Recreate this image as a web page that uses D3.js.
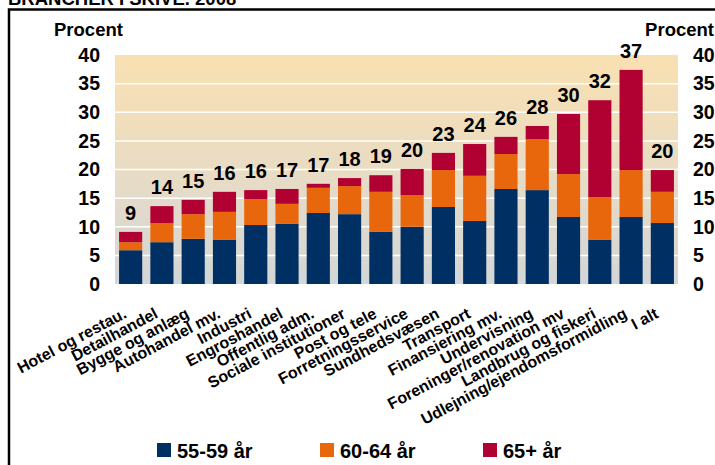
<!DOCTYPE html>
<html>
<head>
<meta charset="utf-8">
<script src="https://cdn.jsdelivr.net/npm/d3@7"></script>
<style>
  body { margin: 0; background: #fff; }
  svg { display: block; font-family: "Liberation Sans", Arial, sans-serif; font-weight: bold; }
</style>
</head>
<body>
<svg id="chart" width="715" height="465"></svg>
<script>
var categories = ["Hotel og restau.", "Detailhandel", "Bygge og anlæg", "Autohandel mv.", "Industri",
  "Engroshandel", "Offentlig adm.", "Sociale institutioner", "Post og tele", "Forretningsservice",
  "Sundhedsvæsen", "Transport", "Finansiering mv.", "Undervisning", "Foreninger/renovation mv",
  "Landbrug og fiskeri", "Udlejning/ejendomsformidling", "I alt"];
var age5559 = [5.9, 7.3, 7.9, 7.7, 10.3, 10.5, 12.4, 12.2, 9.1, 10.0, 13.45, 11.0, 16.6, 16.4, 11.7, 7.7, 11.7, 10.65];
var age6064 = [1.4, 3.35, 4.3, 4.9, 4.55, 3.5, 4.4, 4.9, 7.0, 5.5, 6.45, 7.9, 6.1, 8.9, 7.5, 7.5, 8.2, 5.45];
var age65 = [1.8, 2.95, 2.5, 3.5, 1.55, 2.6, 0.7, 1.4, 2.9, 4.6, 3.0, 5.55, 3.0, 2.3, 10.5, 16.9, 17.5, 3.8];
var totals = [9, 14, 15, 16, 16, 17, 17, 18, 19, 20, 23, 24, 26, 28, 30, 32, 37, 20];
var seriesNames = ["55-59 år", "60-64 år", "65+ år"];
var yTicks = [0, 5, 10, 15, 20, 25, 30, 35, 40];

var colors = ["#003063", "#e8670c", "#b10032"];
var svg = d3.select("#chart");

var plotL = 115, plotR = 678, plotT = 55, plotB = 284;

var x = d3.scaleBand().domain(categories).range([plotL, plotR]).paddingInner(0.26).paddingOuter(0.13);
var y = d3.scaleLinear().domain([0, 40]).range([plotB, plotT]);

// title (cut off at top) and frame
svg.append("text").attr("x", 8).attr("y", 5).attr("font-size", "18.5px").text("BRANCHER I SKIVE. 2008");
svg.append("rect").attr("x", 9).attr("y", 9.5).attr("width", 720).attr("height", 470)
  .attr("fill", "none").attr("stroke", "#000").attr("stroke-width", 2.5);

var defs = svg.append("defs");
var grad = defs.append("linearGradient").attr("id", "bg").attr("x1", 0).attr("y1", 0).attr("x2", 0).attr("y2", 1);
grad.append("stop").attr("offset", "0%").attr("stop-color", "#f9e0b1");
grad.append("stop").attr("offset", "50%").attr("stop-color", "#e9dcc4");
grad.append("stop").attr("offset", "100%").attr("stop-color", "#d3d6d8");

svg.append("rect").attr("x", plotL).attr("y", plotT).attr("width", plotR - plotL).attr("height", plotB - plotT)
  .attr("fill", "url(#bg)");

svg.append("g").selectAll("line").data(yTicks.slice(1, -1)).enter().append("line")
  .attr("x1", plotL).attr("x2", plotR)
  .attr("y1", function(d) { return y(d); }).attr("y2", function(d) { return y(d); })
  .attr("stroke", "#fff").attr("stroke-width", 1.5);

// stacked bars
var rows = categories.map(function(c, i) {
  return { cat: c, a: age5559[i], b: age6064[i], c: age65[i] };
});
var stack = d3.stack().keys(["a", "b", "c"]);
var layers = stack(rows);

svg.append("g").selectAll("g").data(layers).enter().append("g")
  .attr("fill", function(d, i) { return colors[i]; })
  .selectAll("rect").data(function(d) { return d; }).enter().append("rect")
  .attr("x", function(d) { return x(d.data.cat); })
  .attr("width", x.bandwidth())
  .attr("y", function(d) { return y(d[1]); })
  .attr("height", function(d) { return y(d[0]) - y(d[1]); });

// total labels
svg.append("g").selectAll("text").data(categories).enter().append("text")
  .attr("x", function(d) { return x(d) + x.bandwidth() / 2; })
  .attr("y", function(d, i) { return y(age5559[i] + age6064[i] + age65[i]) - 12; })
  .attr("text-anchor", "middle").attr("font-size", "20px")
  .text(function(d, i) { return totals[i]; });

// y axes
var axisL = d3.axisLeft(y).tickValues(yTicks).tickSize(0).tickPadding(15);
var gl = svg.append("g").attr("transform", "translate(" + plotL + ",0)").call(axisL);
var axisR = d3.axisRight(y).tickValues(yTicks).tickSize(0).tickPadding(15);
var gr = svg.append("g").attr("transform", "translate(" + plotR + ",0)").call(axisR);
[gl, gr].forEach(function(g) {
  g.select(".domain").remove();
  g.selectAll("text").attr("font-size", "19.5px").attr("font-family", "Liberation Sans, Arial, sans-serif")
    .attr("font-weight", "bold").attr("fill", "#000");
});

svg.append("text").attr("x", 54).attr("y", 36).attr("font-size", "18.5px").text("Procent");
svg.append("text").attr("x", 714).attr("y", 36).attr("text-anchor", "end").attr("font-size", "18.5px").text("Procent");

// category labels
svg.append("g").selectAll("text").data(categories).enter().append("text")
  .attr("transform", function(d) {
    return "translate(" + (x(d) + x.bandwidth() / 2 - 3) + ",317) rotate(-28)";
  })
  .attr("text-anchor", "end").attr("font-size", "16px")
  .text(function(d) { return d; });

// legend
var legendX = [157, 320, 483];
var lg = svg.append("g").selectAll("g").data(seriesNames).enter().append("g")
  .attr("transform", function(d, i) { return "translate(" + legendX[i] + ",443)"; });
lg.append("rect").attr("width", 14).attr("height", 14).attr("fill", function(d, i) { return colors[i]; });
lg.append("text").attr("x", 20).attr("y", 14.5).attr("font-size", "20px").text(function(d) { return d; });
</script>
</body>
</html>
